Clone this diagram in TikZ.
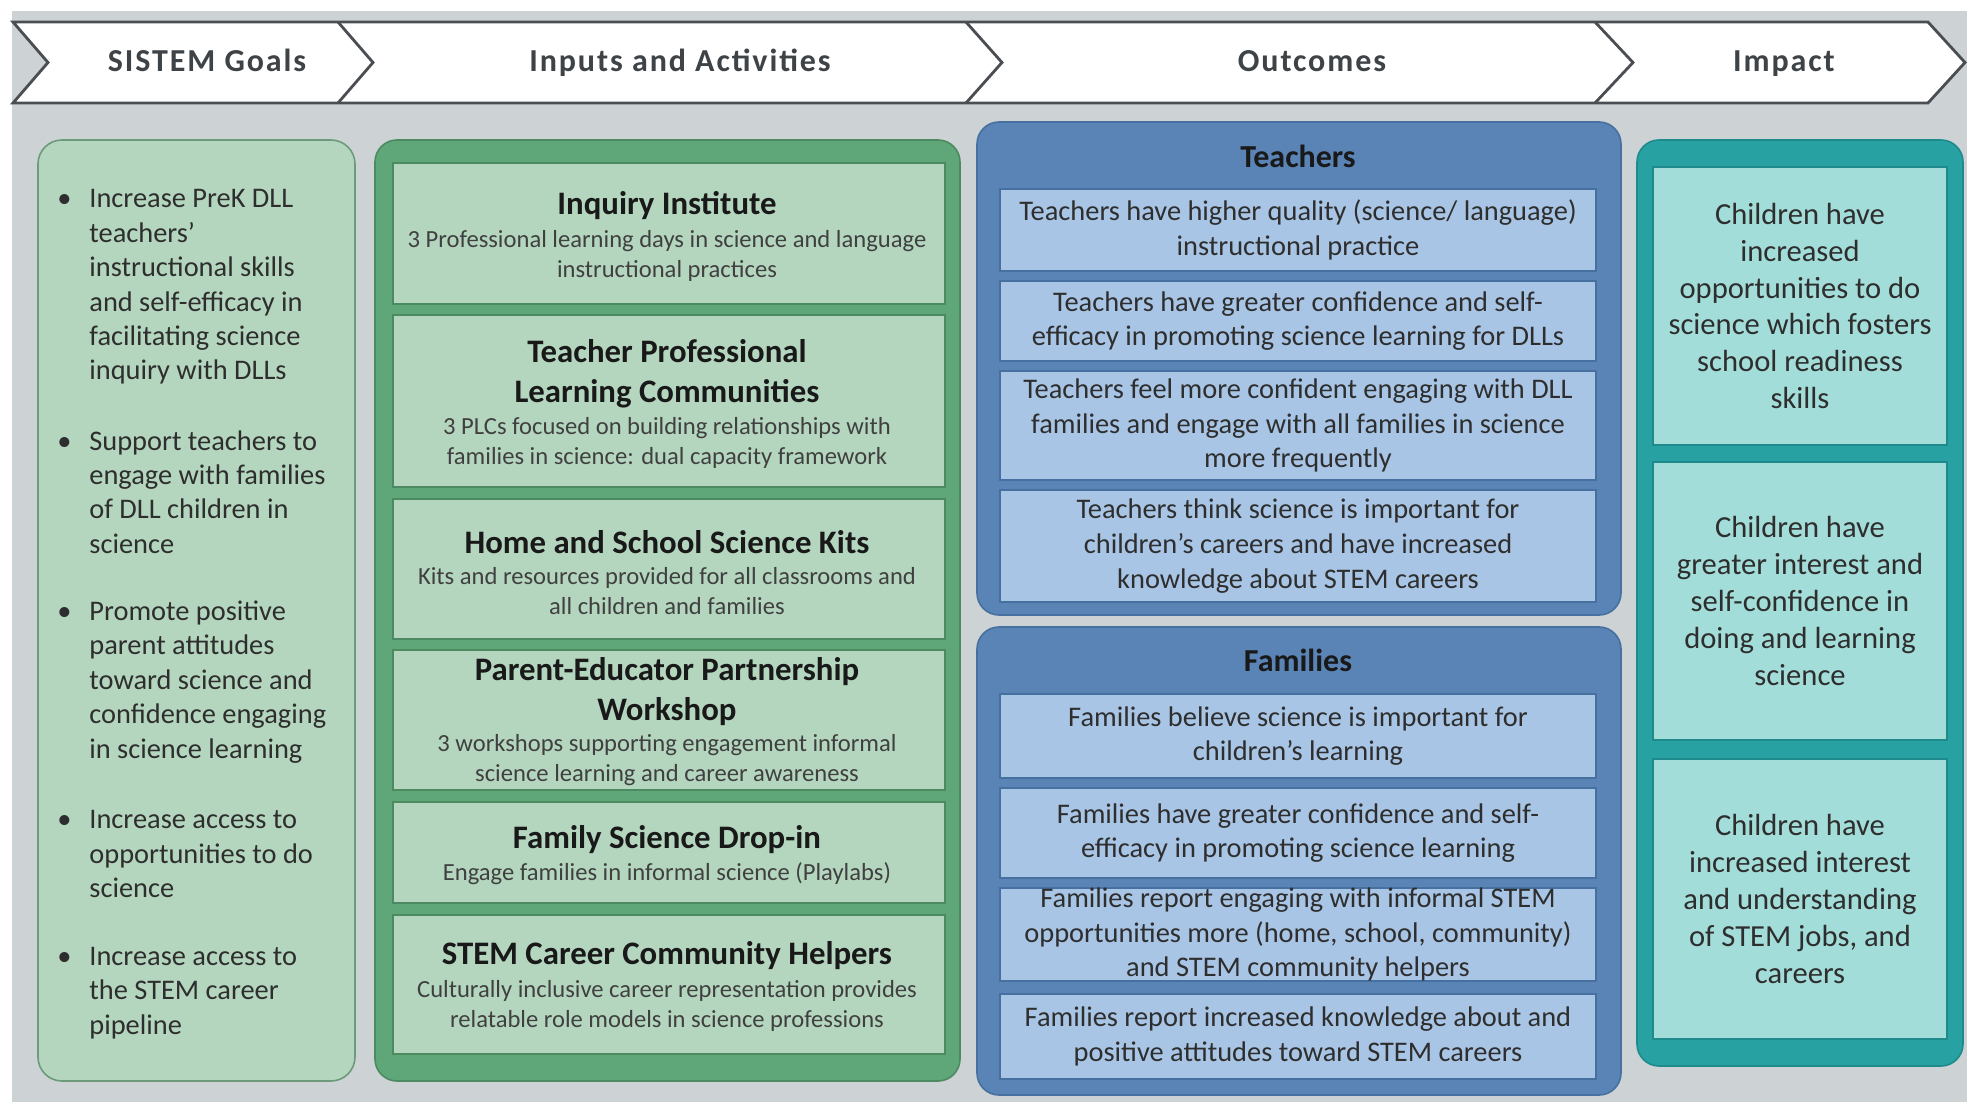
\documentclass[tikz,border=0pt]{standalone}
\usepackage{fontspec}
\setmainfont{Carlito}
\newfontfamily\headfont[LetterSpace=6]{Carlito}

\definecolor{bggray}{HTML}{CDD2D5}
\definecolor{hdline}{HTML}{4A4E52}
\definecolor{hdtext}{HTML}{3E4347}
\definecolor{goalfill}{HTML}{B4D6BF}
\definecolor{goalline}{HTML}{6C9A7B}
\definecolor{greenout}{HTML}{5FA679}
\definecolor{greenline}{HTML}{4C8B61}
\definecolor{greenin}{HTML}{B4D6BF}
\definecolor{blueout}{HTML}{5A84B6}
\definecolor{blueline}{HTML}{46709F}
\definecolor{bluein}{HTML}{A8C5E5}
\definecolor{tealout}{HTML}{27A1A2}
\definecolor{tealline}{HTML}{1E8A8B}
\definecolor{tealin}{HTML}{A3DDD9}
\definecolor{txt}{HTML}{2E2E2E}
\definecolor{subtxt}{HTML}{404040}

% box given by its corners (x1,y1) and (x2,y2), in pixel units
\newcommand{\panelbox}[7]{%
  \node[#1, minimum width={(#5-#3)*0.5pt}, minimum height={(#6-#4)*0.5pt}]
    (#2) at ({(#3+#5)/2},{(#4+#6)/2}) {#7};}

\begin{document}
\begin{tikzpicture}[x=0.5pt,y=-0.5pt,
  hdshape/.style={draw=hdline, line width=1.4pt, line join=miter},
  hdlabel/.style={anchor=base, inner sep=0pt, text=hdtext, font=\headfont\bfseries\fontsize{16}{19}\selectfont},
  goalbox/.style={draw=goalline, fill=goalfill, line width=0.8pt, rounded corners=12pt, inner sep=0pt},
  greenbox/.style={draw=greenline, fill=greenout, line width=0.8pt, rounded corners=11pt, inner sep=0pt},
  bluebox/.style={draw=blueline, fill=blueout, line width=0.8pt, rounded corners=11pt, inner sep=0pt},
  tealbox/.style={draw=tealline, fill=tealout, line width=0.8pt, rounded corners=11pt, inner sep=0pt},
  greencell/.style={draw=greenline, fill=greenin, line width=1pt, inner sep=0pt},
  bluecell/.style={draw=blueline, fill=bluein, line width=1pt, inner sep=0pt, align=center,
    text=txt, font=\fontsize{14.2}{17.4}\selectfont},
  tealcell/.style={draw=tealline, fill=tealin, line width=1pt, inner sep=0pt, align=center,
    text=txt, font=\fontsize{15.3}{18.4}\selectfont},
  goaltext/.style={anchor=west, align=left, inner sep=0pt, text=txt,
    font=\fontsize{14.2}{17.2}\selectfont},
  acttitle/.style={align=center, inner sep=0pt, text=black!90,
    font=\bfseries\fontsize{16.4}{20}\selectfont},
  actsub/.style={align=center, inner sep=0pt, text=subtxt,
    font=\fontsize{12.3}{15}\selectfont},
  grouptitle/.style={inner sep=0pt, text=black!90, font=\bfseries\fontsize{16}{19}\selectfont}
]
\useasboundingbox (0,0) rectangle (1967,1107);
\fill[bggray] (12,11) rectangle (1967,1102);

% ---- header band of chevrons ----
\fill[white] (13,22) -- (1928,22) -- (1965,62.5) -- (1928,103) -- (13,103) -- (48,62.5) -- cycle;
\draw[hdshape] (13,22) -- (1928,22) -- (1965,62.5) -- (1928,103) -- (13,103) -- (48,62.5) -- cycle;
\draw[hdshape] (338,22) -- (373,62.5) -- (338,103);
\draw[hdshape] (966,22) -- (1002,62.5) -- (966,103);
\draw[hdshape] (1595,22) -- (1633,62.5) -- (1595,103);
\node[hdlabel] (hgoals) at (207,72) {SISTEM Goals};
\node[hdlabel] (hinputs) at (680,72) {Inputs and Activities};
\node[hdlabel] (houtcomes) at (1312,72) {Outcomes};
\node[hdlabel] (himpact) at (1784,72) {Impact};

% ---- goals column ----
\panelbox{goalbox}{goals}{38}{140}{355}{1081}{}
\node[goaltext] (g1) at (89,287) {\llap{\textbullet\hspace{9pt}}Increase PreK DLL\\teachers’\\instructional skills\\and self-efficacy in\\facilitating science\\inquiry with DLLs};
\node[goaltext] (g2) at (89,492) {\llap{\textbullet\hspace{9pt}}Support teachers to\\engage with families\\of DLL children in\\science};
\node[goaltext] (g3) at (89,682) {\llap{\textbullet\hspace{9pt}}Promote positive\\parent attitudes\\toward science and\\confidence engaging\\in science learning};
\node[goaltext] (g4) at (89,854) {\llap{\textbullet\hspace{9pt}}Increase access to\\opportunities to do\\science};
\node[goaltext] (g5) at (89,993) {\llap{\textbullet\hspace{9pt}}Increase access to\\the STEM career\\pipeline};

% ---- inputs and activities column ----
\panelbox{greenbox}{inputs}{375}{140}{960}{1081}{}
\panelbox{greencell}{act1}{393}{163}{945}{304}{}
\panelbox{greencell}{act2}{393}{315}{945}{487}{}
\panelbox{greencell}{act3}{393}{499}{945}{639}{}
\panelbox{greencell}{act4}{393}{650}{945}{790}{}
\panelbox{greencell}{act5}{393}{802}{945}{903}{}
\panelbox{greencell}{act6}{393}{915}{945}{1054}{}
\node[acttitle] (act1t) at (667,206) {Inquiry Institute};
\node[actsub]   (act1s) at (667,256) {3 Professional learning days in science and language\\instructional practices};
\node[acttitle] (act2t) at (667,374) {Teacher Professional\\Learning Communities};
\node[actsub]   (act2s) at (667,443) {3 PLCs focused on building relationships with\\families in science: dual capacity framework};
\node[acttitle] (act3t) at (667,542) {Home and School Science Kits};
\node[actsub]   (act3s) at (667,591) {Kits and resources provided for all classrooms and\\all children and families};
\node[acttitle] (act4t) at (667,692) {Parent-Educator Partnership\\Workshop};
\node[actsub]   (act4s) at (667,760) {3 workshops supporting engagement informal\\science learning and career awareness};
\node[acttitle] (act5t) at (667,840) {Family Science Drop-in};
\node[actsub]   (act5s) at (667,874) {Engage families in informal science (Playlabs)};
\node[acttitle] (act6t) at (667,956) {STEM Career Community Helpers};
\node[actsub]   (act6s) at (667,1006) {Culturally inclusive career representation provides\\relatable role models in science professions};

% ---- outcomes column ----
\panelbox{bluebox}{teachers}{977}{122}{1621}{615}{}
\node[grouptitle] (teacherst) at (1298,156) {Teachers};
\panelbox{bluecell}{t1}{1000}{189}{1596}{271}{Teachers have higher quality (science/ language)\\instructional practice}
\panelbox{bluecell}{t2}{1000}{281}{1596}{361}{Teachers have greater confidence and self-\\efficacy in promoting science learning for DLLs}
\panelbox{bluecell}{t3}{1000}{371}{1596}{480}{Teachers feel more confident engaging with DLL\\families and engage with all families in science\\more frequently}
\panelbox{bluecell}{t4}{1000}{490}{1596}{602}{Teachers think science is important for\\children’s careers and have increased\\knowledge about STEM careers}

\panelbox{bluebox}{families}{977}{627}{1621}{1095}{}
\node[grouptitle] (familiest) at (1298,660) {Families};
\panelbox{bluecell}{f1}{1000}{694}{1596}{778}{Families believe science is important for\\children’s learning}
\panelbox{bluecell}{f2}{1000}{788}{1596}{878}{Families have greater confidence and self-\\efficacy in promoting science learning}
\panelbox{bluecell}{f3}{1000}{888}{1596}{981}{Families report engaging with informal STEM\\opportunities more (home, school, community)\\and STEM community helpers}
\panelbox{bluecell}{f4}{1000}{994}{1596}{1079}{Families report increased knowledge about and\\positive attitudes toward STEM careers}

% ---- impact column ----
\panelbox{tealbox}{impact}{1637}{140}{1963}{1066}{}
\panelbox{tealcell}{i1}{1653}{167}{1947}{445}{Children have\\increased\\opportunities to do\\science which fosters\\school readiness\\skills}
\panelbox{tealcell}{i2}{1653}{462}{1947}{740}{Children have\\greater interest and\\self-confidence in\\doing and learning\\science}
\panelbox{tealcell}{i3}{1653}{759}{1947}{1039}{Children have\\increased interest\\and understanding\\of STEM jobs, and\\careers}
\end{tikzpicture}
\end{document}
